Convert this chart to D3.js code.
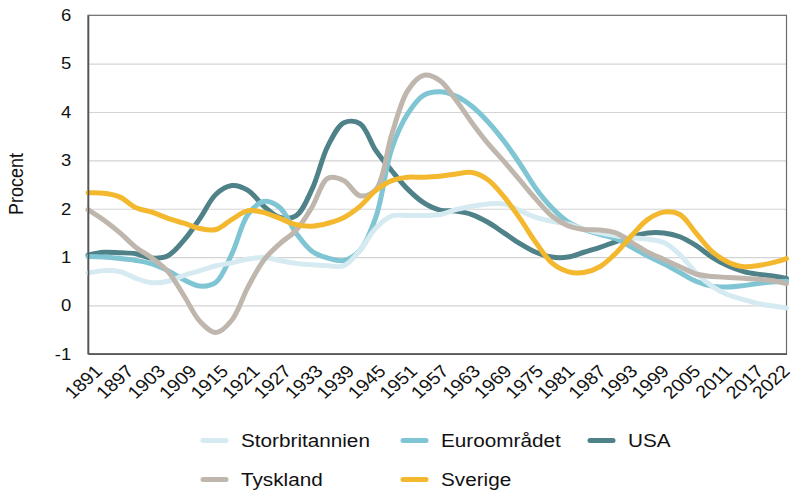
<!DOCTYPE html>
<html>
<head>
<meta charset="utf-8">
<script src="https://cdn.jsdelivr.net/npm/d3@7"></script>
<style>
  html, body { margin: 0; padding: 0; background: #ffffff; }
  svg { display: block; font-family: "Liberation Sans", Arial, sans-serif; }
</style>
</head>
<body>
<svg id="chart" width="799" height="494"></svg>
<script>
const years = [1891,1894,1897,1900,1903,1906,1909,1912,1915,1918,1921,1924,1927,1930,1933,1936,1939,1942,1945,1948,1951,1954,1957,1960,1963,1966,1969,1972,1975,1978,1981,1984,1987,1990,1993,1996,1999,2002,2005,2008,2011,2014,2017,2020,2022];

const storbritannien = [0.67,0.72,0.70,0.56,0.47,0.50,0.62,0.72,0.82,0.88,0.96,0.99,0.93,0.87,0.84,0.82,0.82,1.14,1.60,1.85,1.86,1.86,1.88,1.98,2.05,2.10,2.10,1.96,1.82,1.74,1.68,1.58,1.50,1.44,1.40,1.37,1.30,1.05,0.68,0.40,0.22,0.12,0.03,-0.02,-0.05];
const euroomradet = [1.01,1.00,0.97,0.93,0.86,0.72,0.53,0.40,0.48,1.07,1.88,2.15,2.02,1.50,1.12,0.98,0.93,1.14,1.83,3.25,3.97,4.35,4.42,4.33,4.12,3.80,3.40,2.93,2.42,2.02,1.73,1.57,1.47,1.38,1.20,1.02,0.86,0.68,0.50,0.40,0.38,0.41,0.46,0.49,0.50];
const usa = [1.04,1.10,1.09,1.07,0.98,1.03,1.35,1.80,2.30,2.48,2.38,2.05,1.82,1.85,2.40,3.30,3.78,3.76,3.20,2.78,2.40,2.12,1.97,1.95,1.88,1.72,1.50,1.28,1.10,1.00,1.00,1.10,1.20,1.32,1.42,1.50,1.50,1.42,1.24,1.00,0.82,0.70,0.64,0.60,0.56];
const tyskland = [1.98,1.76,1.50,1.20,0.98,0.70,0.20,-0.33,-0.56,-0.30,0.38,0.94,1.28,1.55,2.03,2.63,2.58,2.27,2.40,3.55,4.45,4.76,4.65,4.25,3.78,3.35,2.98,2.59,2.20,1.85,1.65,1.57,1.56,1.50,1.30,1.10,0.95,0.80,0.65,0.60,0.58,0.56,0.54,0.50,0.45];
const sverige = [2.33,2.32,2.24,2.02,1.93,1.80,1.70,1.59,1.57,1.78,1.96,1.92,1.80,1.67,1.64,1.70,1.82,2.05,2.38,2.58,2.65,2.65,2.67,2.72,2.75,2.60,2.25,1.80,1.30,0.88,0.70,0.68,0.80,1.08,1.45,1.78,1.93,1.88,1.50,1.12,0.90,0.80,0.83,0.90,0.97];

const xTickYears = [1891,1897,1903,1909,1915,1921,1927,1933,1939,1945,1951,1957,1963,1969,1975,1981,1987,1993,1999,2005,2011,2017,2022];
const yTicks = [-1,0,1,2,3,4,5,6];
const yLabel = "Procent";

const seriesNames = ["Storbritannien","Euroområdet","USA","Tyskland","Sverige"];
const seriesValues = [storbritannien, euroomradet, usa, tyskland, sverige];
const seriesColors = ["#d6ebf1","#7fc5d3","#4f8189","#bfb7ae","#f3b82e"];
const drawOrder = [2,1,0,3,4];

const svg = d3.select("#chart");
const pLeft = 88, pRight = 786.5, pTop = 15.3, pBottom = 353.8;
const SX = 1.12;

const x = d3.scaleLinear().domain([1891, 2022]).range([pLeft, pRight]);
const y = d3.scaleLinear().domain([-1, 6]).range([pBottom, pTop]);
// label anchor positions (rotated labels end slightly right of their ticks)
const xLab = d3.scaleLinear().domain([1891, 2022]).range([pLeft + 15, pRight + 4]);

// grid
svg.append("g")
  .attr("transform", `translate(${pLeft},0)`)
  .call(d3.axisLeft(y).tickValues(yTicks.filter(v => v > -1 && v < 6)).tickSize(-(pRight - pLeft)).tickFormat(""))
  .call(g => g.select(".domain").remove())
  .call(g => g.selectAll("line").attr("stroke", "#d4d4d4").attr("stroke-width", 1.2));

// frame
svg.append("rect")
  .attr("x", pLeft).attr("y", pTop)
  .attr("width", pRight - pLeft).attr("height", pBottom - pTop)
  .attr("fill", "none").attr("stroke", "#6a6a6a").attr("stroke-width", 1.2);

// lines
const line = d3.line()
  .x((d, i) => x(years[i]))
  .y(d => y(d))
  .curve(d3.curveCatmullRom.alpha(0.5));

const linesG = svg.append("g");
drawOrder.forEach(i => {
  linesG.append("path")
    .datum(seriesValues[i])
    .attr("fill", "none")
    .attr("stroke", seriesColors[i])
    .attr("stroke-width", 5)
    .attr("stroke-linejoin", "round")
    .attr("stroke-linecap", "round")
    .attr("d", line);
});

// y axis
const yAxis = svg.append("g")
  .attr("transform", `translate(${pLeft},0)`)
  .call(d3.axisLeft(y).tickValues(yTicks).tickSize(0).tickPadding(15).tickFormat(d => String(d)));
yAxis.select(".domain").attr("stroke", "#555").attr("stroke-width", 1.6);
yAxis.selectAll("text")
  .attr("font-size", 16.5).attr("fill", "#111")
  .attr("font-family", "Liberation Sans, Arial, sans-serif")
  .attr("transform", `scale(${SX},1)`);

// x axis line
svg.append("g")
  .attr("transform", `translate(0,${pBottom})`)
  .call(d3.axisBottom(x).tickValues([]).tickSize(0))
  .call(g => g.select(".domain").attr("stroke", "#555").attr("stroke-width", 1.6));

// x tick labels
const xAxis = svg.append("g")
  .attr("transform", `translate(0,${pBottom + 18.5})`)
  .call(d3.axisBottom(xLab).tickValues(xTickYears).tickSize(0).tickFormat(d => String(d)));
xAxis.select(".domain").remove();
xAxis.selectAll("text")
  .attr("font-size", 17.5).attr("fill", "#111")
  .attr("font-family", "Liberation Sans, Arial, sans-serif")
  .attr("x", 0).attr("y", 0).attr("dy", 0)
  .attr("text-anchor", "end")
  .attr("transform", `scale(${SX},1) rotate(-45)`);

// y label
svg.append("text")
  .attr("transform", `translate(23,184) scale(${SX},1) rotate(-90)`)
  .attr("text-anchor", "middle")
  .attr("font-size", 18)
  .attr("fill", "#111")
  .text(yLabel);

// legend
const legendPos = [[201, 440.5], [401, 440.5], [588, 440.5], [201, 479.5], [401, 479.5]];
seriesNames.forEach((name, i) => {
  const [lx, ly] = legendPos[i];
  const g = svg.append("g").attr("transform", `translate(${lx},${ly})`);
  g.append("line").attr("x1", 2).attr("x2", 25).attr("y1", 0).attr("y2", 0)
    .attr("stroke", seriesColors[i]).attr("stroke-width", 5).attr("stroke-linecap", "round");
  g.append("text")
    .attr("transform", `translate(40,0) scale(${SX},1)`)
    .attr("dy", "0.35em")
    .attr("font-size", 18.5)
    .attr("fill", "#111")
    .text(name);
});
</script>
</body>
</html>
